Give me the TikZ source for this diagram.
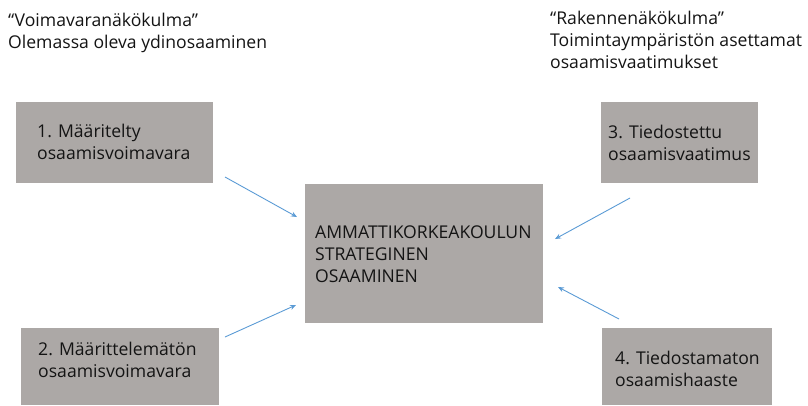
\documentclass[tikz,border=0pt]{standalone}
\usepackage{fontspec}
\setmainfont{Open Sans}
\usetikzlibrary{arrows.meta}
\definecolor{boxgray}{RGB}{172,168,166}
\definecolor{arrowblue}{RGB}{91,155,213}
\definecolor{ink}{RGB}{20,20,20}
\begin{document}
\begin{tikzpicture}[x=1pt,y=-1pt,
  box/.style={draw=none,fill=boxgray,inner sep=0pt,rectangle},
  lbl/.style={anchor=base west,align=left,inner sep=0pt,text=ink,
    font=\fontsize{17.6}{22}\selectfont},
  link/.style={draw=arrowblue,line width=0.9pt,-{Stealth[length=6pt,width=5pt]}}]
\useasboundingbox (0,0) rectangle (808,405);

% headings (anchored at the baseline of their last line)
\node[lbl] (hl) at (8,48) {“Voimavaranäkökulma”\\Olemassa oleva ydinosaaminen};
\node[lbl] (hr) at (550,68) {“Rakennenäkökulma”\\Toimintaympäristön asettamat\\osaamisvaatimukset};

% boxes
\node[box,minimum width=197,minimum height=81] (b1) at (114.5,142.5) {};
\node[box,minimum width=198,minimum height=77] (b2) at (120,366.5) {};
\node[box,minimum width=157,minimum height=81] (b3) at (679.5,142.5) {};
\node[box,minimum width=170,minimum height=77] (b4) at (687,366.5) {};
\node[box,minimum width=238,minimum height=139] (c) at (424,253.5) {};

% box texts
\node[lbl] (t1) at (37,159) {1. Määritelty\\osaamisvoimavara};
\node[lbl] (t2) at (38,377) {2. Määrittelemätön\\osaamisvoimavara};
\node[lbl] (t3) at (608,160) {3. Tiedostettu\\osaamisvaatimus};
\node[lbl] (t4) at (615,386) {4. Tiedostamaton\\osaamishaaste};
\node[lbl] (tc) at (315,282) {AMMATTIKORKEAKOULUN\\STRATEGINEN\\OSAAMINEN};

% arrow ends
\coordinate (a1s) at (225,177);
\coordinate (a1e) at (297,217);
\coordinate (a2s) at (225,337);
\coordinate (a2e) at (296,305);
\coordinate (a3s) at (630,198);
\coordinate (a3e) at (555,239);
\coordinate (a4s) at (619,319);
\coordinate (a4e) at (558,287);

\draw[link] (a1s) -- (a1e);
\draw[link] (a2s) -- (a2e);
\draw[link] (a3s) -- (a3e);
\draw[link] (a4s) -- (a4e);
\end{tikzpicture}
\end{document}
